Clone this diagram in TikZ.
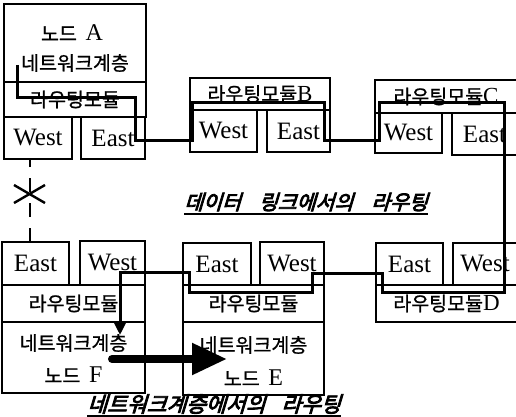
\documentclass[tikz,border=0pt]{standalone}
\usepackage{fontspec}
\setmainfont{Liberation Serif}
\newfontfamily\kr[FakeBold=1]{Noto Sans CJK KR}
\newfontfamily\krit[FakeSlant=0.3,FakeBold=4]{Noto Sans CJK KR}
\usetikzlibrary{arrows.meta}
\begin{document}
\begin{tikzpicture}[x=1pt,y=-1pt,
  bx/.style 2 args={draw,line width=1.6pt,inner sep=0pt,outer sep=0pt,minimum width=#1,minimum height=#2},
  en/.style={font=\fontsize{25}{27}\selectfont},
  ko/.style={font=\kr\fontsize{19.5}{21}\selectfont,inner sep=0pt},
  lab/.style={font=\krit\fontsize{20.5}{22}\selectfont,inner sep=0pt},
  ul/.style={line width=2pt},
  route/.style={line width=3pt,line join=miter},
  dl/.style={line width=1.8pt,dash pattern=on 14pt off 11pt},
  xm/.style={line width=2.4pt},
  big/.style={line width=8pt,line cap=round,-{Triangle[length=35pt,width=30pt]}}]
\useasboundingbox (0,0) rectangle (516,417);
\clip (0,0) rectangle (516,417);
\fill[white] (0,0) rectangle (516,417);

% Node A
\node[bx={142}{78}] (aNet) at (75,43) {};
\node[bx={142}{35},ko] (aMod) at (75,99.5) {라우팅모듈};
\node[bx={68}{42},en] (aW) at (38,138) {West};
\node[bx={64}{42},en] (aE) at (113,138) {East};
\node[ko] (aName) at (72,33) {노드~~{\rmfamily\fontsize{24}{26}\selectfont A}};
\node[ko] (aNetT) at (75,63) {네트워크계층};

% Node B
\node[bx={140}{32},ko] (bMod) at (260,94) {라우팅모듈{\rmfamily\fontsize{23}{25}\selectfont B}};
\node[bx={67}{42},en] (bW) at (223.5,131) {West};
\node[bx={63}{42},en] (bE) at (298.5,131) {East};

% Node C
\node[bx={142}{33},ko] (cMod) at (446,96.5) {라우팅모듈{\rmfamily\fontsize{23}{25}\selectfont C}};
\node[bx={67}{40},en] (cW) at (408.5,133) {West};
\node[bx={65}{42},en] (cE) at (484.5,134) {East};

% Node D
\node[bx={67}{42},en] (dE) at (409.5,264) {East};
\node[bx={64}{42},en] (dW) at (485,264) {West};
\node[bx={141}{37},ko] (dMod) at (446.5,303.5) {라우팅모듈{\rmfamily\fontsize{23}{25}\selectfont D}};

% Node E
\node[bx={68}{42},en] (eE) at (217,264) {East};
\node[bx={64}{43},en] (eW) at (292,263.5) {West};
\node[bx={141}{37},ko] (eMod) at (253.5,303.5) {라우팅모듈};
\node[bx={141}{73}] (eNet) at (253.5,358.5) {};
\node[ko] (eNetT) at (253.5,345) {네트워크계층};
\node[ko] (eName) at (253.5,378) {노드~~{\rmfamily\fontsize{24}{26}\selectfont E}};

% Node F
\node[bx={67}{43},en] (fE) at (35.5,263.5) {East};
\node[bx={65}{44},en] (fW) at (112.5,263) {West};
\node[bx={143}{37},ko] (fMod) at (73.5,303.5) {라우팅모듈};
\node[bx={143}{71}] (fNet) at (73.5,357.5) {};
\node[ko] (fNetT) at (73.5,343) {네트워크계층};
\node[ko] (fName) at (73.5,375) {노드~~{\rmfamily\fontsize{24}{26}\selectfont F}};

% route through data link
\coordinate (p1) at (17,65);
\coordinate (p2) at (17,98);
\coordinate (p3) at (135,98);
\coordinate (p4) at (135,140);
\coordinate (p5) at (192,140);
\coordinate (p6) at (192,103);
\coordinate (p7) at (324,103);
\coordinate (p8) at (324,140);
\coordinate (p9) at (379,140);
\coordinate (p10) at (379,103);
\coordinate (p11) at (504,103);
\coordinate (p12) at (504,292);
\coordinate (p13) at (382,292);
\coordinate (p14) at (382,273);
\coordinate (p15) at (312,273);
\coordinate (p16) at (312,292);
\coordinate (p17) at (189,292);
\coordinate (p18) at (189,272);
\coordinate (p19) at (120,272);
\coordinate (p20) at (120,335);
\draw[route,-{Triangle[length=12pt,width=11pt]}] (p1) -- (p2) -- (p3) -- (p4) -- (p5) -- (p6) -- (p7) -- (p8) -- (p9) -- (p10) -- (p11) -- (p12) -- (p13) -- (p14) -- (p15) -- (p16) -- (p17) -- (p18) -- (p19) -- (p20);

% broken link A-F
\draw[dl] ([xshift=-5.5pt]fE.north) -- ([xshift=-8pt]aW.south);
\draw[xm] (14,185) -- (45,203) (14,203) -- (45,185);

% network layer routing
\coordinate (bs) at (112,359);
\coordinate (bt) at (227,359);
\draw[big] (bs) -- (bt);

% labels
\node[lab] (t1) at (306,202) {데이터\hspace{18pt}링크에서의\hspace{18pt}라우팅};
\draw[ul] ([yshift=-3pt]t1.south west) -- ([yshift=-3pt]t1.south east);
\node[lab,font=\krit\fontsize{21.5}{23}\selectfont] (t2) at (214,404) {네트워크계층에서의\hspace{16pt}라우팅};
\draw[ul] ([yshift=-2pt]t2.south west) -- ([yshift=-2pt]t2.south east);
\end{tikzpicture}
\end{document}
